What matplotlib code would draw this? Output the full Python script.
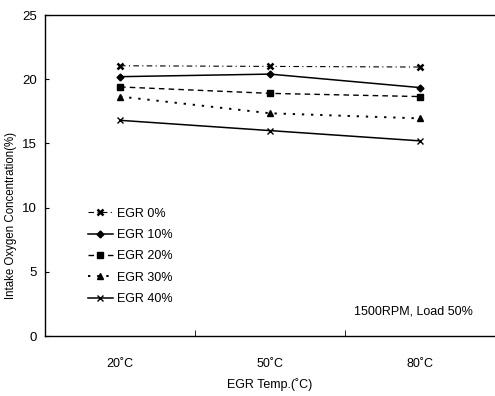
import matplotlib
matplotlib.use("Agg")
import matplotlib.pyplot as plt

plt.rcParams['font.family'] = ['Liberation Sans', 'DejaVu Sans']

# data
temps = ["20\u02daC", "50\u02daC", "80\u02daC"]
egr0 = [21.05, 21.0, 20.95]
egr10 = [20.2, 20.4, 19.35]
egr20 = [19.4, 18.9, 18.65]
egr30 = [18.65, 17.35, 16.95]
egr40 = [16.8, 16.0, 15.2]
labels = ["EGR 0%", "EGR 10%", "EGR 20%", "EGR 30%", "EGR 40%"]

series = [egr0, egr10, egr20, egr30, egr40]
styles = [
    dict(ls=(0, (5, 3, 1, 3)), marker="x", ms=5, mew=1.8, lw=0.8),
    dict(ls="-", marker="D", ms=3.5, lw=1.1),
    dict(ls=(0, (4, 3)), marker="s", ms=5, lw=1.0),
    dict(ls=(0, (1.2, 3.5)), marker="^", ms=4.5, lw=1.4),
    dict(ls="-", marker="x", ms=5, mew=1.0, lw=1.1),
]

fig = plt.figure(figsize=(4.95, 3.96), dpi=100)
ax = fig.add_axes([0.091, 0.1515, 0.909, 0.8105])

x = list(range(len(temps)))
for vals, lab, st in zip(series, labels, styles):
    ax.plot(x, vals, color="black", label=lab, **st)

ax.set_xlim(-0.5, 2.5)
ax.set_ylim(0, 25)
ax.set_yticks([0, 5, 10, 15, 20, 25])
ax.set_xticks(x)
ax.set_xticklabels(temps, fontsize=9)
ax.set_xticks([0.5, 1.5], minor=True)
ax.tick_params(axis="x", which="major", length=0, pad=16)
ax.tick_params(axis="x", which="minor", direction="in", length=4)
ax.tick_params(axis="y", direction="in", length=3, labelsize=9.5, pad=6)
ax.spines["right"].set_visible(False)
for s in ["left", "bottom", "top"]:
    ax.spines[s].set_linewidth(1.0)

ax.set_xlabel("EGR Temp.(\u02daC)", fontsize=9, labelpad=6)
ax.set_ylabel("Intake Oxygen Concentration(%)", fontsize=8.3)
ax.yaxis.set_label_coords(-0.062, 0.377)

ax.legend(loc="upper left", bbox_to_anchor=(0.07, 0.435), frameon=False,
          fontsize=9, handlelength=2.0, handletextpad=0.3, labelspacing=0.75)
ax.text(0.95, 0.076, "1500RPM, Load 50%", transform=ax.transAxes,
        ha="right", va="center", fontsize=9)

fig.savefig("out.png", dpi=100)
